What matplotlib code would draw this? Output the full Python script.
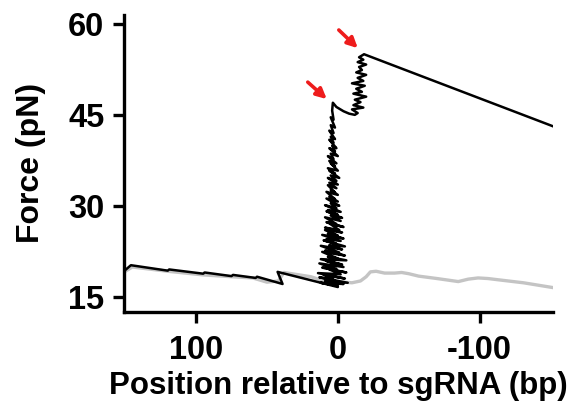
import matplotlib
matplotlib.use("Agg")
import matplotlib.pyplot as plt

plt.rcParams['font.family'] = ['Liberation Sans', 'DejaVu Sans']
plt.rcParams['font.weight'] = 'bold'

# ---- data (position in bp, force in pN) ----
# black trace: baseline sawtooth before sgRNA
base_x = [150, 146, 120, 119, 95, 94, 75, 74, 58, 57, 39, 42.5, 0]
base_y = [19.4, 20.2, 19.3, 19.5, 18.8, 19.0, 18.4, 18.6, 18.1, 18.3, 17.1, 19.1, 16.6]

# black trace: first noisy climb at sgRNA
climb1_x = [0, 12, -4, 9, -7, 13, 2, 10, -5, 14, -2, 6, -6, 11, 1, 13, -4, 8, -3, 12,
            -6, 7, 0, 11, -5, 9, -1, 12, -3, 6, -5, 10, 1, 8, -2, 11, -4, 7, 0, 9,
            -3, 9, -1, 6, -4, 8, 1, 9, -2, 5, -3, 8, 0, 7, -2, 9, 1, 5, -1, 8,
            0, 6, 2, 8, 0, 5, 2, 7, 1, 6,
            0, 7, 1, 5, -1, 6, 2, 7, 0, 5, 2, 6, 1, 7, 3, 5, 0, 6, 2, 4,
            1, 6, 3, 5, 2, 6, 3, 5, 2, 5, 3, 4, 3.5]
climb1_y = [16.8, 17.3, 17.1, 17.6, 17.3, 18.2, 17.7, 18.6, 18.0, 18.9, 18.7, 19.5, 19.0, 19.8, 19.6, 20.5, 19.9, 20.9, 20.3, 21.2,
            21.0, 21.6, 21.3, 22.4, 21.8, 22.6, 22.3, 23.4, 22.8, 23.5, 23.3, 24.3, 23.7, 24.5, 24.2, 25.2, 24.6, 25.4, 25.1, 26.0,
            25.6, 26.4, 26.0, 27.1, 26.5, 27.3, 27.0, 28.1, 27.5, 28.4, 28.0, 29.1, 28.5, 29.3, 29.0, 30.1, 29.6, 30.4, 30.0, 31.2,
            30.7, 31.5, 31.1, 32.3, 31.8, 32.6, 32.2, 33.4, 32.9, 33.8,
            33.5, 34.6, 34.1, 35.0, 34.6, 35.8, 35.3, 36.2, 35.8, 37.0, 36.5, 37.4, 37.0, 38.2, 37.7, 38.6, 38.2, 39.5, 39.0, 39.9,
            39.5, 40.9, 40.4, 41.4, 41.0, 42.4, 42.0, 43.3, 42.9, 44.6, 44.2, 45.7, 47.0]

# black trace: dip after first peak
dip_x = [3.5, 1, -4, -8, -12, -14]
dip_y = [47.0, 46.3, 45.6, 45.2, 45.0, 45.3]

# black trace: second climb
climb2_x = [-14, -10, -18, -11, -16, -12, -20, -11, -17, -13, -19, -10, -18, -14, -20, -13,
            -17, -15, -20, -14, -18, -15, -18.5]
climb2_y = [45.3, 45.9, 46.2, 46.6, 47.1, 47.5, 48.0, 48.5, 48.8, 49.3, 49.8, 50.2, 50.6, 51.1, 51.6, 52.0,
            52.4, 52.9, 53.3, 53.7, 54.1, 54.5, 55.0]

# black trace: relaxation after second peak
tail_x = [-18.5, -152]
tail_y = [55.0, 43.1]

# gray control trace
gray_x = [150, 145, 120, 95, 75, 60, 50, 42, 38, 19, 10, 0, -4, -10, -16, -20, -23, -27,
          -33, -40, -45, -50, -57, -70, -85, -92, -99, -106, -113, -131, -152]
gray_y = [19.2, 19.9, 19.2, 18.6, 18.3, 18.1, 17.4, 17.6, 19.0, 18.3, 17.6, 17.3, 17.4, 17.3, 17.6, 18.3, 19.1, 19.2,
          18.9, 18.9, 19.0, 18.8, 18.4, 18.0, 17.5, 17.9, 18.1, 18.0, 17.8, 17.3, 16.5]

# red arrows (tail -> head)
arrow_tail_x = [21.2, -0.7]
arrow_tail_y = [50.4, 59.0]
arrow_head_x = [7.8, -14.1]
arrow_head_y = [47.6, 56.0]

xticks = [100, 0, -100]
yticks = [15, 30, 45, 60]

fig = plt.figure(figsize=(5.68, 4.12), dpi=100)
ax = fig.add_axes([0.218, 0.243, 0.756, 0.721])

ax.plot(gray_x, gray_y, color='#c4c4c4', lw=2.4, zorder=1, solid_joinstyle='round')
black_x = base_x + climb1_x + dip_x + climb2_x + tail_x
black_y = base_y + climb1_y + dip_y + climb2_y + tail_y
ax.plot(black_x, black_y, color='black', lw=1.8, zorder=2, solid_joinstyle='round')

for tx, ty, hx, hy in zip(arrow_tail_x, arrow_tail_y, arrow_head_x, arrow_head_y):
    ax.annotate('', xy=(hx, hy), xytext=(tx, ty),
                arrowprops=dict(arrowstyle='-|>', color='#ee1c1c', lw=2.6, mutation_scale=15,
                                shrinkA=0, shrinkB=0))

ax.set_xlim(151, -152)
ax.set_ylim(12.5, 61.5)
ax.set_xticks(xticks)
ax.set_xticklabels([str(v) for v in xticks])
ax.set_yticks(yticks)

for s in ['top', 'right']:
    ax.spines[s].set_visible(False)
for s in ['left', 'bottom']:
    ax.spines[s].set_linewidth(2.4)
ax.tick_params(width=2.4, length=8, labelsize=23.5)
ax.tick_params(axis='x', pad=9)
ax.tick_params(axis='y', pad=6)
for lab in ax.get_xticklabels() + ax.get_yticklabels():
    lab.set_fontweight('bold')

ax.set_xlabel('Position relative to sgRNA (bp)', fontsize=22.5, fontweight='bold', labelpad=3)
ax.set_ylabel('Force (pN)', fontsize=23, fontweight='bold', labelpad=16)

fig.savefig('out.png', dpi=100)
